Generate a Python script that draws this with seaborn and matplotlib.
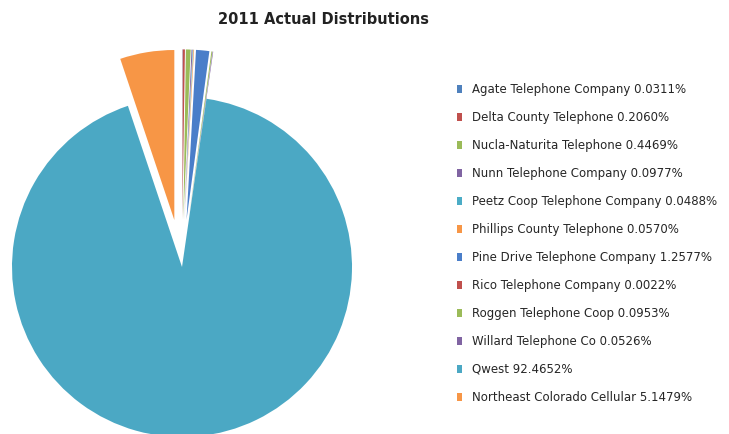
import matplotlib
matplotlib.use("Agg")
import matplotlib.pyplot as plt
import seaborn as sns
from matplotlib.patches import Patch

sns.set_theme(style="white")
plt.rcParams['font.family'] = ['DejaVu Sans']

companies = ["Agate Telephone Company", "Delta County Telephone", "Nucla-Naturita Telephone",
             "Nunn Telephone Company", "Peetz Coop Telephone Company", "Phillips County Telephone",
             "Pine Drive Telephone Company", "Rico Telephone Company", "Roggen Telephone Coop",
             "Willard Telephone Co", "Qwest", "Northeast Colorado Cellular"]
shares = [0.0311, 0.2060, 0.4469, 0.0977, 0.0488, 0.0570, 1.2577, 0.0022, 0.0953, 0.0526,
          92.4652, 5.1479]
colors = ["#4F81BD", "#C0504D", "#9BBB59", "#8064A2", "#4BACC6", "#F79646",
          "#4A7EC9", "#C0504D", "#9BBB59", "#8064A2", "#4BA8C4", "#F79646"]
labels = [f"{c} {v:.4f}%" for c, v in zip(companies, shares)]
explode = [0.0 if c == "Qwest" else 0.28 for c in companies]

W, H = 729, 434
fig = plt.figure(figsize=(W / 100, H / 100), dpi=100)
cx, cy, r = 182, 267, 170
ax_w = 450
ax = fig.add_axes([0, 0, ax_w / W, 1])
ax.pie(shares, colors=colors, explode=explode, startangle=90, counterclock=False,
       radius=1, wedgeprops=dict(linewidth=0))
ax.set_aspect("equal", adjustable="datalim")
ax.set_xlim(-cx / r, (ax_w - cx) / r)
ax.set_ylim(-(H - cy) / r, cy / r)
ax.axis("off")

fig.text(324 / W, 1 - 20 / H, "2011 Actual Distributions", ha="center", va="center",
         fontsize=10.5, fontweight="bold", color="#222222")

handles = [Patch(facecolor=c, edgecolor="none") for c in colors]
fig.legend(handles, labels, loc="upper left", bbox_to_anchor=(457 / W, 1 - 83 / H),
           frameon=False, fontsize=8.5, handlelength=0.45, handleheight=0.6,
           handletextpad=0.8, labelspacing=1.27, borderaxespad=0, borderpad=0)

fig.savefig("out.png", dpi=100)
